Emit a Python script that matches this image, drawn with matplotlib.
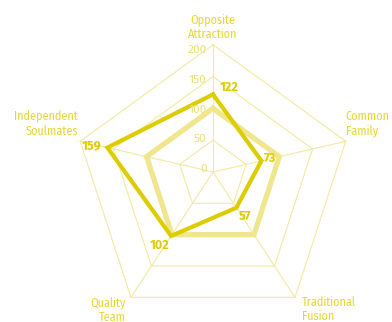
import numpy as np
import matplotlib.pyplot as plt

categories = ["Opposite\nAttraction", "Common\nFamily", "Traditional\nFusion",
              "Quality\nTeam", "Independent\nSoulmates"]
couple_scores = [122, 73, 57, 102, 159]
baseline_scores = [100, 100, 100, 100, 100]
grid_levels = [50, 100, 150, 200]
tick_values = [0, 50, 100, 150, 200]

GOLD = "#ddcd00"
PALE = "#f0e68e"
GRID = "#f2e9a2"
TEXT = "#e6d832"
TICK = "#ebe07a"

# rings sag a little as they grow, which gives the web a shallow pyramid look
TILT = 0.089

plt.rcParams["font.family"] = ["Fira Sans Condensed", "DejaVu Sans"]
NUM_FONT = ["Fira Sans", "DejaVu Sans"]

angles = np.arange(len(categories)) * 2 * np.pi / len(categories)


def project(values):
    v = np.asarray(values, dtype=float)
    return v * np.sin(angles), v * np.cos(angles) - TILT * v


def closed(x, y):
    return np.append(x, x[0]), np.append(y, y[0])


fig = plt.figure(figsize=(3.92, 3.22), dpi=100)
ax = fig.add_axes([0, 0, 1, 1])
ax.set_xlim(-305, 256.4)
ax.set_ylim(-214.9, 246.4)
ax.set_aspect("equal")
ax.axis("off")

# web: spokes and rings
ox, oy = project([max(grid_levels)] * len(categories))
for x, y in zip(ox, oy):
    ax.plot([0, x], [0, y], color=GRID, lw=0.8, zorder=1)
for level in grid_levels:
    gx, gy = closed(*project([level] * len(categories)))
    ax.plot(gx, gy, color=GRID, lw=0.8, zorder=1)

# series
bx, by = closed(*project(baseline_scores))
ax.plot(bx, by, color=PALE, lw=3.8, solid_joinstyle="miter", zorder=2)
cx, cy = closed(*project(couple_scores))
ax.plot(cx, cy, color=GOLD, lw=3.0, solid_joinstyle="miter", zorder=3)

# radial tick labels along the top spoke
for v in tick_values:
    ax.annotate(str(v), (0, v * (1 - TILT)), xytext=(-4.5, 2 - 0.028 * v),
                textcoords="offset points", ha="right", va="center",
                fontsize=8.5, family=NUM_FONT, color=TICK, zorder=4)

# value labels
value_offsets = [(5, 5, "left"), (1.5, 2, "left"), (2, -6.5, "left"),
                 (-1, -7, "right"), (-4, 1.5, "right")]
px, py = project(couple_scores)
for val, x, y, (dx, dy, ha) in zip(couple_scores, px, py, value_offsets):
    ax.annotate(str(val), (x, y), xytext=(dx, dy), textcoords="offset points",
                ha=ha, va="center", fontsize=9, fontweight="bold",
                family=NUM_FONT, color=GOLD, zorder=5)

# category labels at the outer corners
label_place = [(0, 3, "center", "bottom"), (0, 3, "left", "bottom"),
               (5, 1, "left", "top"), (-4, 1, "right", "top"),
               (-1.5, 3, "right", "bottom")]
for name, x, y, (dx, dy, ha, va) in zip(categories, ox, oy, label_place):
    ax.annotate(name, (x, y), xytext=(dx, dy), textcoords="offset points",
                ha=ha, va=va, multialignment=ha,
                fontsize=8.7, color=TEXT, linespacing=1.2, zorder=4)

fig.savefig("out.png", dpi=100)
